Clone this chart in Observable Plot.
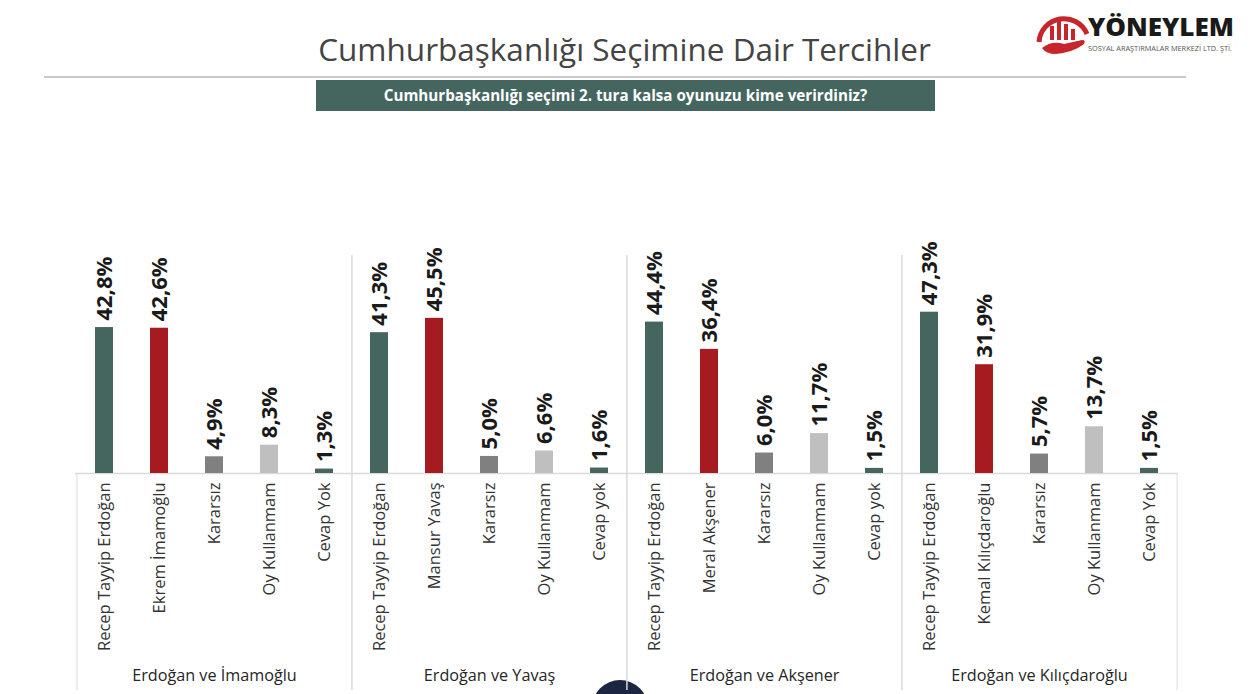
<!DOCTYPE html>
<html>
<head>
<meta charset="utf-8">
<script src="https://cdn.jsdelivr.net/npm/d3@7"></script>
<script src="https://cdn.jsdelivr.net/npm/@observablehq/plot@0.6"></script>
<style>
  html, body { margin: 0; padding: 0; background: #fff; }
  body { width: 1251px; height: 694px; position: relative; overflow: hidden; font-family: "Open Sans", "Noto Sans", sans-serif; }
  #title { position: absolute; left: 0; width: 1249px; top: 29px; text-align: center; font-size: 31.5px; color: #444; font-weight: 400; line-height: 40px; }
  #hline { position: absolute; left: 44px; width: 1142px; top: 76px; height: 2px; background: #c9c9c9; }
  #qbox { position: absolute; left: 316px; width: 619px; top: 80px; height: 31px; background: #44665f; color: #fff; font-weight: 700; font-size: 15.2px; text-align: center; line-height: 31px; }
  #chart { position: absolute; left: 0; top: 120px; }
  #logo { position: absolute; left: 1030px; top: 4px; }
  #pagenum { position: absolute; left: 592px; top: 680px; width: 56px; height: 56px; border-radius: 50%; background: #1c2541; }
</style>
</head>
<body>
<div id="title">Cumhurbaşkanlığı Seçimine Dair Tercihler</div>
<div id="hline"></div>
<div id="qbox">Cumhurbaşkanlığı seçimi 2. tura kalsa oyunuzu kime verirdiniz?</div>
<svg id="logo" width="215" height="56" viewBox="0 0 215 56">
  <path d="M9 38 A25 25 0 0 1 57 30" fill="none" stroke="#c8242b" stroke-width="5"/>
  <rect x="20" y="22" width="4" height="14" fill="#c8242b"/>
  <rect x="27" y="16" width="4" height="20" fill="#c8242b"/>
  <rect x="34" y="20" width="4" height="16" fill="#c8242b"/>
  <rect x="41" y="25" width="4" height="11" fill="#c8242b"/>
  <path d="M12 44 Q22 36 34 40 L52 36 Q56 36 54 40 Q44 48 26 50 Q16 50 12 44 Z" fill="#c8242b"/>
  <text x="58" y="32" font-family="Open Sans, sans-serif" font-weight="800" font-size="25" fill="#1a1a1a" textLength="146" lengthAdjust="spacingAndGlyphs">YÖNEYLEM</text>
  <text x="58" y="47" font-family="Open Sans, sans-serif" font-size="6.5" fill="#555" textLength="144" lengthAdjust="spacingAndGlyphs">SOSYAL ARAŞTIRMALAR MERKEZİ LTD. ŞTİ.</text>
</svg>
<div id="pagenum"></div>
<div id="chart"></div>
<script>
// ---- data ----
const groups = ["Erdoğan ve İmamoğlu", "Erdoğan ve Yavaş", "Erdoğan ve Akşener", "Erdoğan ve Kılıçdaroğlu"];
const categoriesImamoglu = ["Recep Tayyip Erdoğan", "Ekrem İmamoğlu", "Kararsız", "Oy Kullanmam", "Cevap Yok"];
const categoriesYavas = ["Recep Tayyip Erdoğan", "Mansur Yavaş", "Kararsız", "Oy Kullanmam", "Cevap yok"];
const categoriesAksener = ["Recep Tayyip Erdoğan", "Meral Akşener", "Kararsız", "Oy Kullanmam", "Cevap yok"];
const categoriesKilicdaroglu = ["Recep Tayyip Erdoğan", "Kemal Kılıçdaroğlu", "Kararsız", "Oy Kullanmam", "Cevap Yok"];
const valuesImamoglu = [42.8, 42.6, 4.9, 8.3, 1.3];
const valuesYavas = [41.3, 45.5, 5.0, 6.6, 1.6];
const valuesAksener = [44.4, 36.4, 6.0, 11.7, 1.5];
const valuesKilicdaroglu = [47.3, 31.9, 5.7, 13.7, 1.5];
const roles = ["erdogan", "rakip", "kararsiz", "oykullanmam", "cevapyok"];
const roleColors = ["#44665f", "#a51b1f", "#808080", "#bfbfbf", "#44665f"];

// ---- build table ----
const cats = [categoriesImamoglu, categoriesYavas, categoriesAksener, categoriesKilicdaroglu];
const vals = [valuesImamoglu, valuesYavas, valuesAksener, valuesKilicdaroglu];
const rows = [];
groups.forEach((g, gi) => {
  cats[gi].forEach((c, ci) => {
    rows.push({group: g, key: gi + "|" + c, category: c, value: vals[gi][ci], role: roles[ci]});
  });
});
const keys = rows.map(d => d.key);
const groupMid = groups.map((g, gi) => ({group: g, key: gi + "|" + cats[gi][2]}));
const groupFirst = groups.slice(1).map((g, gi) => ({key: (gi + 1) + "|" + cats[gi + 1][0]}));
const fmt = v => v.toFixed(1).replace(".", ",") + "%";

const W = 1251, H = 574, mL = 75, mR = 73, mT = 182.5, mB = 221;
const step = (W - mL - mR) / keys.length;
const pad = 1 - 18 / step;

const plot = Plot.plot({
  width: W,
  height: H,
  marginLeft: mL,
  marginRight: mR,
  marginTop: mT,
  marginBottom: mB,
  style: {fontFamily: "Open Sans, sans-serif", background: "transparent", overflow: "visible"},
  x: {domain: keys, paddingInner: pad, paddingOuter: pad / 2, axis: null},
  y: {domain: [0, 50], axis: null},
  color: {domain: roles, range: roleColors},
  marks: [
    // group separators
    Plot.ruleX(groupFirst, {x: "key", dx: -step / 2, stroke: "#d9d9d9", strokeWidth: 1.5, insetTop: -47.5, insetBottom: -217}),
    // outer borders below baseline
    Plot.ruleX([keys[0]], {dx: -step / 2, stroke: "#e3e3e3", strokeWidth: 1.2, insetTop: H - mT - mB, insetBottom: -217}),
    Plot.ruleX([keys[keys.length - 1]], {dx: step / 2, stroke: "#e3e3e3", strokeWidth: 1.2, insetTop: H - mT - mB, insetBottom: -217}),
    Plot.ruleY([0], {stroke: "#d9d9d9", strokeWidth: 1.5}),
    Plot.barY(rows, {x: "key", y: "value", fill: "role"}),
    Plot.text(rows, {x: "key", y: "value", text: d => fmt(d.value), rotate: -90, textAnchor: "start", dy: -7, fontSize: 22, fontWeight: 700, fill: "#1a1a1a"}),
    Plot.axisX({tickRotate: -90, tickSize: 0, tickPadding: 9, fontSize: 16.5, tickFormat: k => k.split("|")[1], label: null, fill: "#333"}),
    Plot.text(groupMid, {x: "key", text: "group", frameAnchor: "bottom", dy: 207, fontSize: 16.2, fill: "#262626"})
  ]
});
document.getElementById("chart").appendChild(plot);
</script>
</body>
</html>
